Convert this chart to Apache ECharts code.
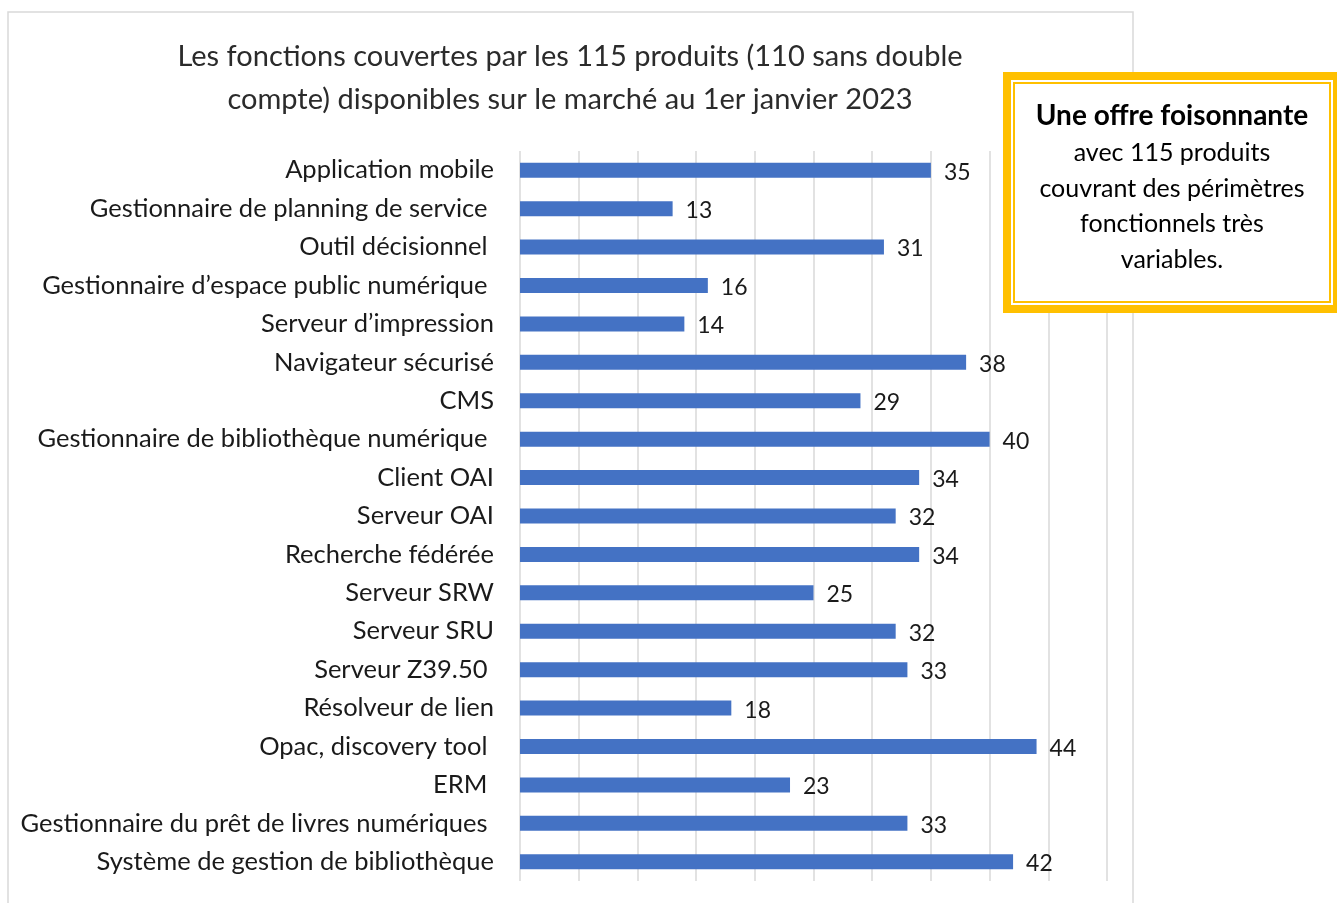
<!DOCTYPE html>
<html><head><meta charset="utf-8">
<script src="https://cdn.jsdelivr.net/npm/echarts@6/dist/echarts.min.js"></script>
<style>html,body{margin:0;padding:0;background:#fff}#c{width:1337px;height:903px}</style>
</head><body><div id="c"></div>
<script>
const categories = [
  "Application mobile",
  "Gestionnaire de planning de service ",
  "Outil décisionnel ",
  "Gestionnaire d’espace public numérique ",
  "Serveur d’impression",
  "Navigateur sécurisé",
  "CMS",
  "Gestionnaire de bibliothèque numérique ",
  "Client OAI",
  "Serveur OAI",
  "Recherche fédérée",
  "Serveur SRW",
  "Serveur SRU",
  "Serveur Z39.50 ",
  "Résolveur de lien",
  "Opac, discovery tool ",
  "ERM ",
  "Gestionnaire du prêt de livres numériques ",
  "Système de gestion de bibliothèque"
];
const values = [35, 13, 31, 16, 14, 38, 29, 40, 34, 32, 34, 25, 32, 33, 18, 44, 23, 33, 42];
const titleLines = ["Les fonctions couvertes par les 115 produits (110 sans double", "compte) disponibles sur le marché au 1er janvier 2023"];
const boxTitle = "Une offre foisonnante";
const boxLines = ["avec 115 produits", "couvrant des périmètres", "fonctionnels très", "variables."];

const font = "Lato";
const chart = echarts.init(document.getElementById('c'));
chart.setOption({
  animation: false,
  backgroundColor: '#fff',
  title: {
    text: titleLines.join('\n'),
    left: 565, top: 30, textAlign: 'center',
    textStyle: {fontFamily: font, fontSize: 29, fontWeight: 'normal', color: '#2b2b2b', lineHeight: 43}
  },
  grid: {left: 520, right: 230, top: 151, bottom: 22, containLabel: false},
  xAxis: {
    type: 'value', min: 0, max: 50, interval: 5,
    axisLabel: {show: false}, axisLine: {show: false}, axisTick: {show: false},
    splitLine: {lineStyle: {color: '#d9d9d9', width: 1.5}}
  },
  yAxis: {
    type: 'category', data: categories, inverse: true,
    axisLine: {show: false}, axisTick: {show: false},
    axisLabel: {fontFamily: font, fontSize: 25.5, color: '#1a1a1a', margin: 26}
  },
  series: [{
    type: 'bar', data: values, barWidth: 15,
    itemStyle: {color: '#4472C4'},
    label: {show: true, position: 'right', distance: 13, fontFamily: font, fontSize: 23, color: '#1a1a1a', offset: [0, 2]}
  }],
  graphic: [
    {type: 'rect', shape: {x: 8, y: 12, width: 1125, height: 1000}, style: {fill: 'none', stroke: '#d9d9d9', lineWidth: 1.5}, z: 0},
    {type: 'rect', shape: {x: 1007, y: 76, width: 330, height: 233}, style: {fill: '#fff', stroke: '#FFC000', lineWidth: 8}, z: 10},
    {type: 'rect', shape: {x: 1014, y: 83, width: 316, height: 219}, style: {fill: '#fff', stroke: '#FFC000', lineWidth: 2}, z: 11},
    {type: 'text', x: 1172, y: 116, style: {text: boxTitle, fontFamily: font, fontSize: 28, fontWeight: 'bold', fill: '#000', textAlign: 'center', textVerticalAlign: 'middle'}, z: 12},
    {type: 'text', x: 1172, y: 135, style: {text: boxLines.join('\n'), fontFamily: font, fontSize: 25, lineHeight: 35.7, fill: '#000', textAlign: 'center', textVerticalAlign: 'top'}, z: 12}
  ]
});
</script></body></html>
